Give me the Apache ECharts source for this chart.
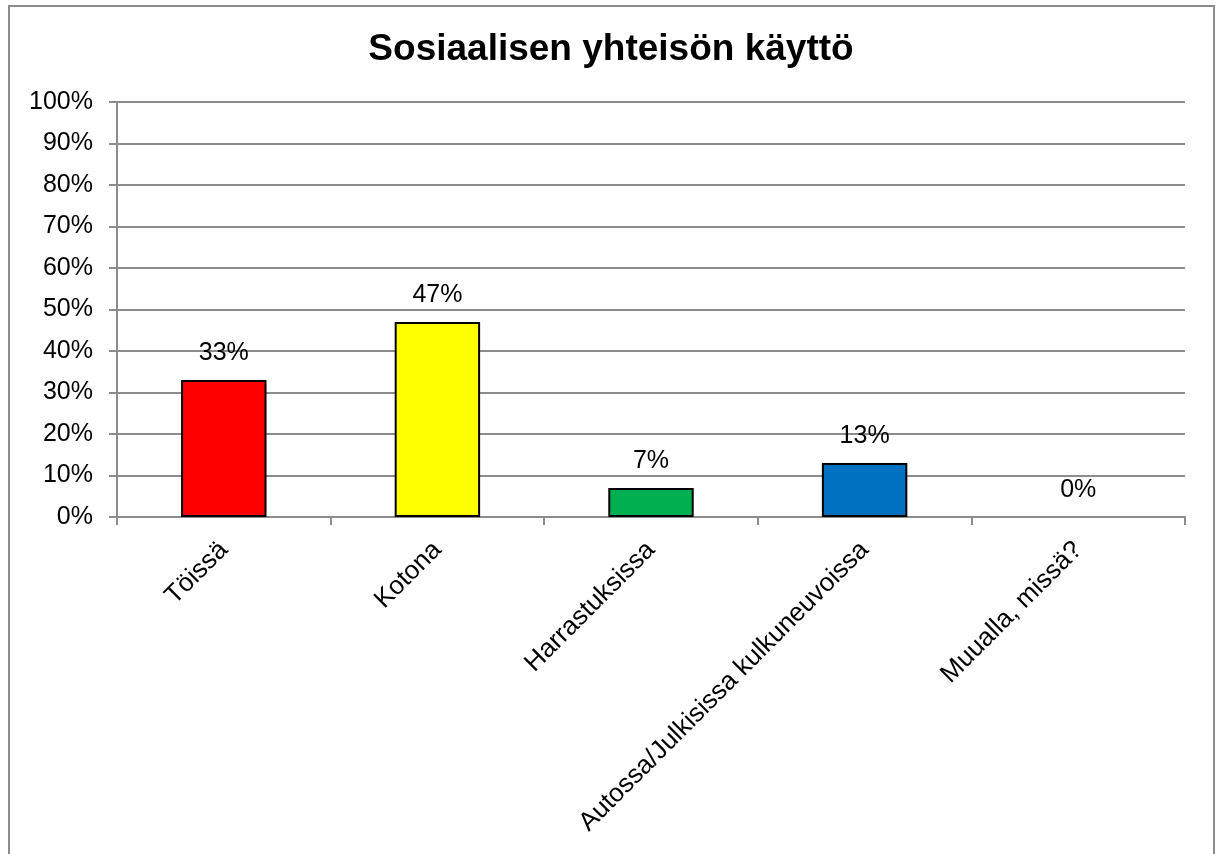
<!DOCTYPE html>
<html>
<head>
<meta charset="utf-8">
<script src="https://cdn.jsdelivr.net/npm/echarts@6/dist/echarts.min.js"></script>
<style>
html,body{margin:0;padding:0;background:#fff;overflow:hidden;}
#frame{position:absolute;left:8px;top:5px;width:1207px;height:900px;border:2px solid #8c8c8c;box-sizing:border-box;}
#chart{position:absolute;left:0;top:0;width:1222px;height:854px;}
</style>
</head>
<body>
<div id="frame"></div>
<div id="chart"></div>
<script>
const titleText = 'Sosiaalisen yhteisön käyttö';
const categories = ['Töissä', 'Kotona', 'Harrastuksissa', 'Autossa/Julkisissa kulkuneuvoissa', 'Muualla, missä?'];
const values = [33, 47, 7, 13, 0];
const barColors = ['#FF0000', '#FFFF00', '#00B050', '#0070C0', '#7F7F7F'];

const chart = echarts.init(document.getElementById('chart'), null, {renderer: 'canvas'});
const font = '"Liberation Sans", Arial, sans-serif';
chart.setOption({
  backgroundColor: 'transparent',
  animation: false,
  title: {
    text: titleText,
    left: 'center',
    top: 26,
    textStyle: {fontFamily: font, fontSize: 37, fontWeight: 'bold', color: '#000'}
  },
  grid: {left: 117, right: 37, top: 102, bottom: 337, containLabel: false},
  xAxis: {
    type: 'category',
    data: categories,
    axisLine: {lineStyle: {color: '#8c8c8c', width: 2}},
    axisTick: {show: true, length: 8, lineStyle: {color: '#8c8c8c', width: 2}},
    axisLabel: {
      rotate: 45, interval: 0, margin: 29,
      fontFamily: font, fontSize: 26, color: '#000'
    }
  },
  yAxis: {
    type: 'value',
    min: 0, max: 100, interval: 10,
    axisLine: {show: true, lineStyle: {color: '#8c8c8c', width: 2}},
    axisTick: {show: true, length: 8, lineStyle: {color: '#8c8c8c', width: 2}},
    splitLine: {lineStyle: {color: '#8c8c8c', width: 2}},
    axisLabel: {
      formatter: '{value}%', margin: 24,
      fontFamily: font, fontSize: 25, color: '#000'
    }
  },
  series: [{
    type: 'bar',
    data: values.map((v, i) => ({value: v, itemStyle: {color: barColors[i], borderWidth: v === 0 ? 0 : 2}})),
    barCategoryGap: '60%',
    itemStyle: {borderColor: '#000', borderWidth: 2},
    label: {
      show: true, position: 'top', distance: 14,
      formatter: '{c}%',
      fontFamily: font, fontSize: 25, color: '#000'
    }
  }]
});
</script>
</body>
</html>
